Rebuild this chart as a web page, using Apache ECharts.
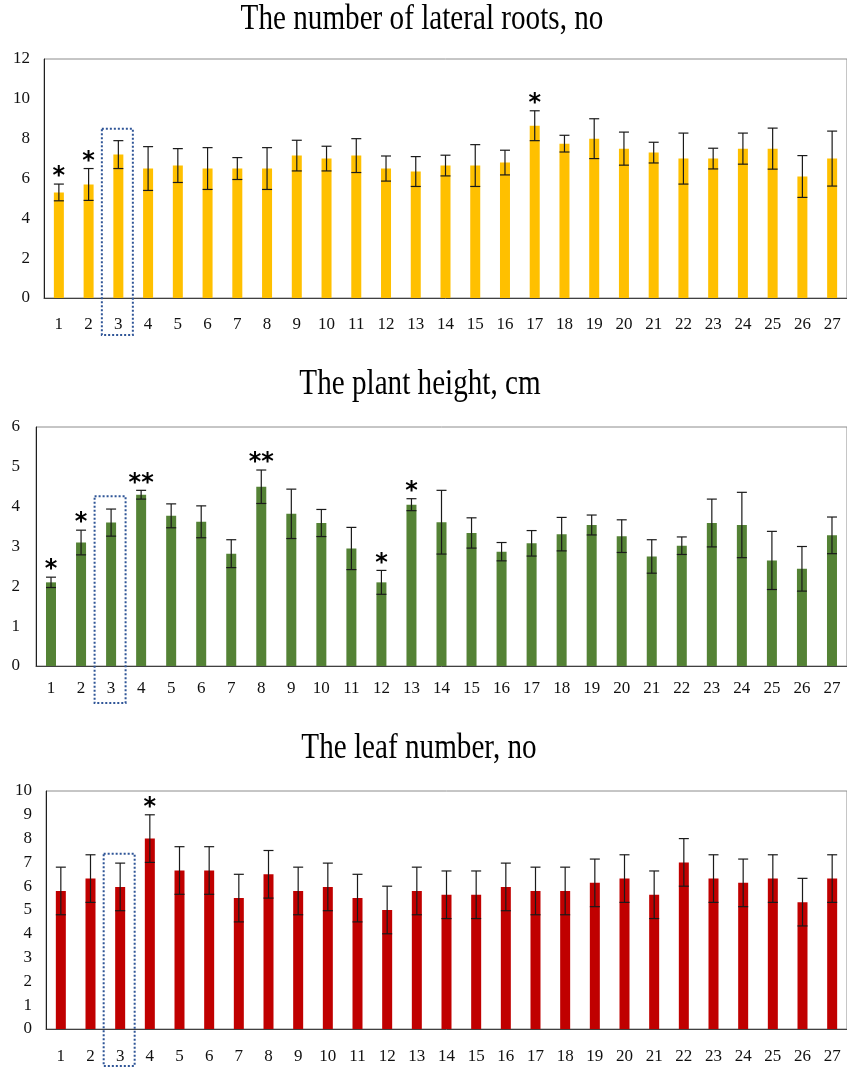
<!DOCTYPE html>
<html>
<head>
<meta charset="utf-8">
<script src="https://cdn.jsdelivr.net/npm/echarts@6/dist/echarts.min.js"></script>
<style>
html,body{margin:0;padding:0;background:#fff;}
#c{width:847px;height:1068px;}
</style>
</head>
<body>
<div id="c"></div>
<script>
const categories = ['1','2','3','4','5','6','7','8','9','10','11','12','13','14','15','16','17','18','19','20','21','22','23','24','25','26','27'];

const titles = ['The number of lateral roots, no', 'The plant height, cm', 'The leaf number, no'];

const rootsMean = [5.3,5.7,7.2,6.5,6.65,6.5,6.5,6.5,7.15,7.0,7.15,6.5,6.35,6.65,6.65,6.8,8.65,7.75,8.0,7.5,7.3,7.0,7.0,7.5,7.5,6.1,7.0];
const rootsErr  = [0.42,0.8,0.7,1.1,0.85,1.05,0.55,1.05,0.77,0.62,0.85,0.63,0.75,0.52,1.05,0.62,0.75,0.42,1.0,0.83,0.52,1.28,0.52,0.78,1.03,1.05,1.38];
const rootsStars = ['*','*','','','','','','','','','','','','','','','*','','','','','','','','','',''];

const heightMean = [2.1,3.1,3.6,4.3,3.77,3.62,2.82,4.5,3.82,3.59,2.95,2.1,4.05,3.61,3.34,2.87,3.08,3.31,3.54,3.26,2.75,3.02,3.59,3.54,2.65,2.44,3.28];
const heightErr  = [0.13,0.31,0.34,0.11,0.3,0.4,0.35,0.42,0.62,0.34,0.53,0.3,0.15,0.8,0.38,0.23,0.32,0.42,0.25,0.41,0.42,0.22,0.6,0.82,0.73,0.56,0.46];
const heightStars = ['*','*','','**','','','','**','','','','*','*','','','','','','','','','','','','','',''];

const leafMean = [5.8,6.32,5.97,8.0,6.66,6.66,5.5,6.5,5.8,5.97,5.5,5.0,5.8,5.64,5.64,5.97,5.8,5.8,6.14,6.32,5.64,7.0,6.32,6.14,6.32,5.33,6.32];
const leafErr  = [1,1,1,1,1,1,1,1,1,1,1,1,1,1,1,1,1,1,1,1,1,1,1,1,1,1,1];
const leafStars = ['','','','*','','','','','','','','','','','','','','','','','','','','','','',''];

const yMax = [12, 6, 10];
const yInterval = [2, 1, 1];
const highlightCategory = '3';
const boxTopValue = [8.5, 4.26, 7.36];

const barColors = ['#FFC000', '#548235', '#C00000'];
const serif = '"Liberation Serif", "Times New Roman", serif';

const grids = [
  {left: 44, top: 59, width: 805, height: 239},
  {left: 36, top: 427, width: 814, height: 239},
  {left: 46, top: 791, width: 803, height: 238}
];
const xLabelMargin = [18, 14, 19];
const yLabelMargin = [14, 16, 14];
const titleCenters = [[422, 19.5], [420, 384.5], [419, 748.5]];

const chart = echarts.init(document.getElementById('c'), null, {renderer: 'canvas'});

function errSeries(gi, means, errs, stars) {
  return {
    type: 'custom',
    xAxisIndex: gi, yAxisIndex: gi,
    z: 5, silent: true, clip: false,
    data: means.map((m, i) => [i, m, errs[i]]),
    renderItem: function (params, api) {
      const i = api.value(0), m = api.value(1), e = api.value(2);
      const top = api.coord([i, m + e]);
      const bot = api.coord([i, m - e]);
      const cw = 5;
      const st = {stroke: '#1a1a1a', lineWidth: 1.2};
      const children = [
        {type: 'line', shape: {x1: top[0], y1: top[1], x2: bot[0], y2: bot[1]}, style: st},
        {type: 'line', shape: {x1: top[0] - cw, y1: top[1], x2: top[0] + cw, y2: top[1]}, style: st},
        {type: 'line', shape: {x1: bot[0] - cw, y1: bot[1], x2: bot[0] + cw, y2: bot[1]}, style: st}
      ];
      const s = stars[params.dataIndex];
      if (s) {
        children.push({
          type: 'text', x: top[0], y: top[1] + 5,
          style: {text: s, font: 'bold 24px "DejaVu Sans"', fill: '#000', align: 'center', verticalAlign: 'bottom'}
        });
      }
      return {type: 'group', children: children};
    }
  };
}

const option = {
  animation: false,
  backgroundColor: '#fff',
  grid: grids.map(g => Object.assign({show: true, borderColor: '#8c8c8c', borderWidth: 1, containLabel: false}, g)),
  xAxis: grids.map((g, k) => ({
    type: 'category', gridIndex: k, data: categories,
    axisLine: {show: true, lineStyle: {color: '#404040', width: 1}},
    axisTick: {show: false},
    axisLabel: {fontFamily: serif, fontSize: 17, color: '#111', margin: xLabelMargin[k], interval: 0}
  })),
  yAxis: grids.map((g, k) => ({
    type: 'value', gridIndex: k, min: 0, max: yMax[k], interval: yInterval[k],
    axisLine: {show: true, lineStyle: {color: '#202020', width: 1}},
    axisTick: {show: false},
    splitLine: {show: false},
    axisLabel: {fontFamily: serif, fontSize: 17, color: '#111', margin: yLabelMargin[k]}
  })),
  series: [
    {type: 'bar', xAxisIndex: 0, yAxisIndex: 0, data: rootsMean, barWidth: 10, itemStyle: {color: barColors[0]}},
    {type: 'bar', xAxisIndex: 1, yAxisIndex: 1, data: heightMean, barWidth: 10, itemStyle: {color: barColors[1]}},
    {type: 'bar', xAxisIndex: 2, yAxisIndex: 2, data: leafMean, barWidth: 10, itemStyle: {color: barColors[2]}},
    errSeries(0, rootsMean, rootsErr, rootsStars),
    errSeries(1, heightMean, heightErr, heightStars),
    errSeries(2, leafMean, leafErr, leafStars)
  ]
};
chart.setOption(option);

// titles (slightly condensed serif, as in the reference)
const titleEls = titles.map((t, k) => ({
  type: 'text', x: titleCenters[k][0], y: titleCenters[k][1], scaleX: 0.81, silent: true,
  style: {text: t, font: '36px ' + serif, fill: '#000', align: 'center', verticalAlign: 'middle'}
}));

// dotted highlight boxes around the reference category, positioned via the axes
const hIdx = categories.indexOf(highlightCategory);
const boxes = grids.map((g, k) => {
  const cx = chart.convertToPixel({xAxisIndex: k}, hIdx);
  const ty = chart.convertToPixel({yAxisIndex: k}, boxTopValue[k]);
  const by = chart.convertToPixel({yAxisIndex: k}, 0) + 37;
  const w = 31;
  return {
    type: 'rect', shape: {x: cx - w / 2 - 1, y: ty, width: w, height: by - ty},
    style: {fill: 'none', stroke: '#2F5597', lineWidth: 2, lineDash: [2, 2]},
    silent: true, z: 100
  };
});
chart.setOption({graphic: titleEls.concat(boxes)});
</script>
</body>
</html>
